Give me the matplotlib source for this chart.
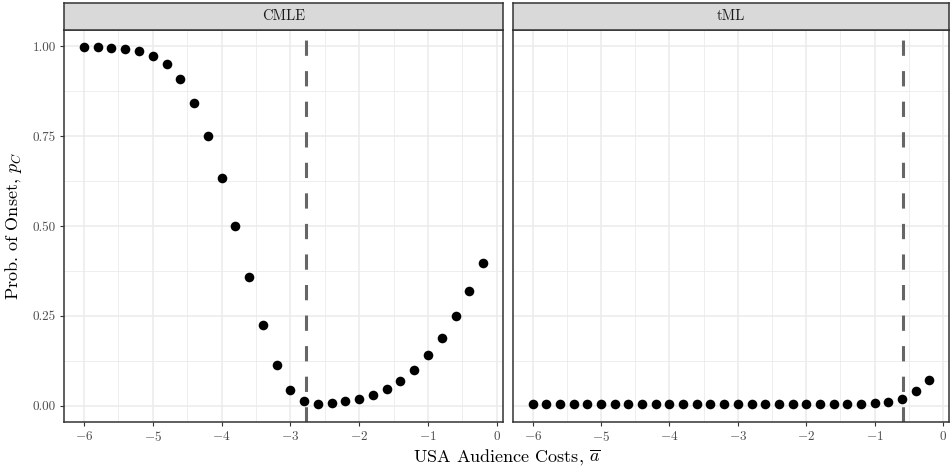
import numpy as np
import matplotlib
matplotlib.use("Agg")
import matplotlib.pyplot as plt
from matplotlib.ticker import MultipleLocator

plt.rcParams["font.family"] = "serif"
plt.rcParams["font.serif"] = ["cmr10"]
plt.rcParams["mathtext.fontset"] = "cm"
plt.rcParams["axes.formatter.use_mathtext"] = True

# audience cost grid
costs = [-6.0, -5.8, -5.6, -5.4, -5.2, -5.0, -4.8, -4.6, -4.4, -4.2,
         -4.0, -3.8, -3.6, -3.4, -3.2, -3.0, -2.8, -2.6, -2.4, -2.2,
         -2.0, -1.8, -1.6, -1.4, -1.2, -1.0, -0.8, -0.6, -0.4, -0.2]

p_cmle = [0.998, 0.997, 0.995, 0.992, 0.986, 0.973, 0.950, 0.908, 0.843, 0.751,
          0.634, 0.500, 0.358, 0.224, 0.114, 0.044, 0.013, 0.006, 0.008, 0.013,
          0.018, 0.030, 0.046, 0.068, 0.099, 0.140, 0.189, 0.250, 0.319, 0.396]

p_tml = [0.005, 0.005, 0.005, 0.005, 0.005, 0.005, 0.005, 0.005, 0.005, 0.005,
         0.005, 0.005, 0.005, 0.005, 0.005, 0.005, 0.005, 0.005, 0.005, 0.005,
         0.005, 0.005, 0.005, 0.005, 0.006, 0.008, 0.012, 0.019, 0.040, 0.071]

panels = ["CMLE", "tML"]
estimates = {"CMLE": -2.77, "tML": -0.58}
series = {"CMLE": p_cmle, "tML": p_tml}

fig = plt.figure(figsize=(9.52, 4.70), dpi=100)
W, H = 952, 470
boxes = [(64, 503), (513, 949)]
top, bottom, strip_top = 30, 422, 3

for name, (x0, x1) in zip(panels, boxes):
    ax = fig.add_axes([x0 / W, 1 - bottom / H, (x1 - x0) / W, (bottom - top) / H])
    ax.set_xlim(-6.29, 0.09)
    ax.set_ylim(-0.045, 1.045)
    ax.xaxis.set_major_locator(MultipleLocator(1))
    ax.xaxis.set_minor_locator(MultipleLocator(0.5))
    ax.yaxis.set_major_locator(MultipleLocator(0.25))
    ax.yaxis.set_minor_locator(MultipleLocator(0.125))
    ax.grid(which="major", color="#EBEBEB", lw=1.1)
    ax.grid(which="minor", color="#EBEBEB", lw=0.6)
    ax.set_axisbelow(True)
    for sp in ax.spines.values():
        sp.set_color("#333333")
        sp.set_linewidth(1.1)
    ax.tick_params(which="major", length=3, color="#333333", labelcolor="#4D4D4D",
                   labelsize=9.5, pad=3)
    ax.tick_params(which="minor", length=0)
    ax.set_xticks([-6, -5, -4, -3, -2, -1, 0])
    ax.set_xticklabels(["$-6$", "$-5$", "$-4$", "$-3$", "$-2$", "$-1$", "$0$"])
    ax.set_yticks([0, 0.25, 0.5, 0.75, 1.0])
    if name == "CMLE":
        ax.set_yticklabels(["0.00", "0.25", "0.50", "0.75", "1.00"])
    else:
        ax.tick_params(axis="y", labelleft=False, length=0)

    ax.axvline(estimates[name], color="#666666", lw=2.2, dashes=(5, 5), zorder=2)
    ax.scatter(costs, series[name], s=48, color="black", zorder=3, linewidths=0)

    sax = fig.add_axes([x0 / W, 1 - top / H, (x1 - x0) / W, (top - strip_top) / H])
    sax.set_facecolor("#D9D9D9")
    sax.set_xticks([])
    sax.set_yticks([])
    for sp in sax.spines.values():
        sp.set_color("#333333")
        sp.set_linewidth(1.1)
    sax.text(0.5, 0.5, name, ha="center", va="center", fontsize=10.5, color="#1A1A1A",
             transform=sax.transAxes)

fig.text((64 + 949) / 2 / W, 1 - 457 / H, r"USA Audience Costs, $\overline{a}$",
         ha="center", va="center", fontsize=13)
fig.text(14 / W, 1 - ((top + bottom) / 2) / H, r"Prob. of Onset, $p_C$",
         ha="center", va="center", rotation=90, fontsize=13)

fig.savefig("out.png", dpi=100)
